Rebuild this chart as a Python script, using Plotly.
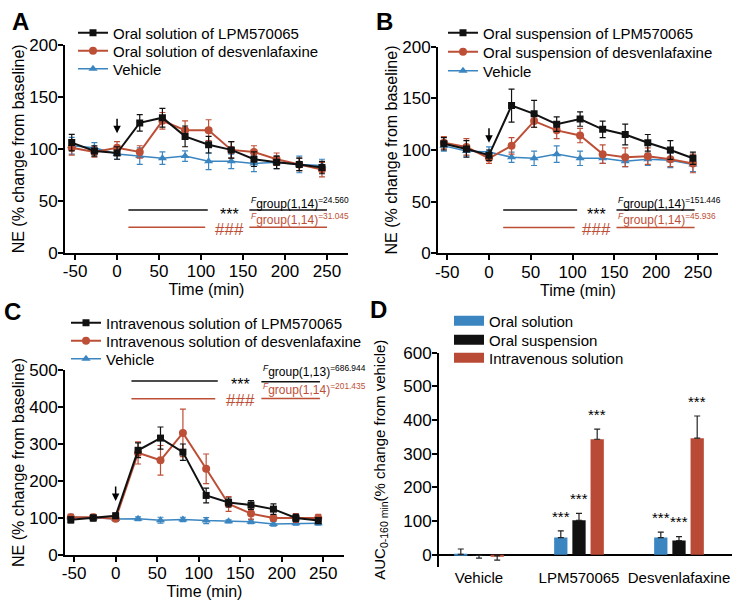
import plotly.graph_objects as go

W, H = 738, 611

BLACK = "#111111"
RED = "#bd4f37"
BLUE = "#3b86c1"
FONT = "Arial, Liberation Sans, sans-serif"

# time points (min) shared by panels A-C
time_min = [-54, -27, 0, 27, 54, 81, 109, 136, 163, 190, 217, 244]

# A: oral solution
a_lpm = [106, 98, 96, 125, 130, 112, 104, 99, 90, 87, 85, 82]
a_lpm_err = [8, 5, 6, 8, 9, 10, 8, 8, 7, 6, 6, 6]
a_des = [101, 97, 101, 97, 127, 118, 118, 99, 97, 90, 85, 80]
a_des_err = [7, 5, 6, 6, 8, 9, 10, 8, 6, 6, 6, 7]
a_veh = [103, 101, 95, 93, 91, 93, 88, 88, 86, 87, 85, 84]
a_veh_err = [8, 5, 5, 8, 6, 5, 8, 7, 8, 6, 8, 6]

# B: oral suspension
b_lpm = [106, 101, 95, 143, 135, 125, 130, 120, 115, 107, 100, 92]
b_lpm_err = [6, 8, 5, 16, 13, 7, 7, 8, 10, 8, 9, 6]
b_des = [107, 103, 92, 104, 128, 119, 114, 96, 93, 94, 91, 87]
b_des_err = [6, 8, 5, 8, 6, 8, 7, 9, 9, 8, 7, 9]
b_veh = [104, 99, 98, 93, 92, 96, 92, 92, 89, 91, 90, 86]
b_veh_err = [5, 5, 5, 5, 7, 8, 7, 5, 5, 6, 7, 7]

# C: intravenous solution
c_lpm = [95, 100, 106, 283, 316, 278, 161, 142, 135, 124, 100, 93]
c_lpm_err = [8, 8, 7, 20, 30, 22, 20, 12, 12, 14, 10, 8]
c_des = [102, 102, 98, 276, 256, 330, 233, 138, 112, 100, 100, 100]
c_des_err = [8, 8, 6, 30, 40, 64, 40, 20, 15, 8, 12, 10]
c_veh = [102, 101, 97, 98, 94, 96, 93, 91, 90, 84, 86, 86]
c_veh_err = [8, 8, 6, 5, 8, 6, 8, 4, 5, 6, 5, 5]

# D: AUC 0-160 min
groups = ["Vehicle", "LPM570065", "Desvenlafaxine"]
auc_solution = [1, 51, 51]
auc_solution_err = [16, 20, 16]
auc_suspension = [-2, 102, 42]
auc_suspension_err = [8, 21, 12]
auc_iv = [-3, 343, 346]
auc_iv_err = [13, 30, 66]
sig_solution = ["", "***", "***"]
sig_suspension = ["", "***", "***"]
sig_iv = ["", "***", "***"]

# F statistics text
f_stats = {
    "A": ("(1,14)", "24.560", "(1,14)", "31.045"),
    "B": ("(1,14)", "151.446", "(1,14)", "45.936"),
    "C": ("(1,13)", "686.944", "(1,14)", "201.435"),
}

time_ticks = [-50, 0, 50, 100, 150, 200, 250]
time_ticktext = ["-50", "0", "50", "100", "150", "200", "250"]


def xd(a, b):
    return [a / W, b / W]


def yd(top, bottom):
    return [1 - bottom / H, 1 - top / H]


fig = go.Figure()

panels = [
    # key, axis suffix, data, legend names, legend pos (px), legend row gap
    ("A", "", (a_lpm, a_lpm_err, a_des, a_des_err, a_veh, a_veh_err),
     ["Oral solution of LPM570065", "Oral solution of desvenlafaxine", "Vehicle"],
     (73, 33), 18),
    ("B", "2", (b_lpm, b_lpm_err, b_des, b_des_err, b_veh, b_veh_err),
     ["Oral suspension of LPM570065", "Oral suspension of desvenlafaxine", "Vehicle"],
     (443, 33), 19),
    ("C", "3", (c_lpm, c_lpm_err, c_des, c_des_err, c_veh, c_veh_err),
     ["Intravenous solution of LPM570065", "Intravenous solution of desvenlafaxine", "Vehicle"],
     (66, 323), 18),
]

legends = {}
leg_i = 0


def new_legend(x_px, y_px):
    global leg_i
    leg_i += 1
    name = "legend" if leg_i == 1 else f"legend{leg_i}"
    legends[name] = dict(
        x=x_px / W, y=1 - y_px / H, xanchor="left", yanchor="middle",
        bgcolor="rgba(0,0,0,0)", font=dict(size=15, color="black"),
        itemwidth=30, borderwidth=0,
    )
    return name


for key, sfx, data, names, (lx, ly), gap in panels:
    lpm, lpm_err, des, des_err, veh, veh_err = data
    styles = [
        (veh, veh_err, BLUE, "triangle-up", 8, 1.5, names[2], 2),
        (des, des_err, RED, "circle", 8, 2, names[1], 1),
        (lpm, lpm_err, BLACK, "square", 7, 2, names[0], 0),
    ]
    for y, err, color, sym, size, lw, name, row in styles:
        fig.add_trace(go.Scatter(
            x=time_min, y=y, name=name, mode="lines+markers",
            line=dict(color=color, width=lw),
            marker=dict(color=color, symbol=sym, size=size),
            error_y=dict(type="data", array=err, color=color, thickness=1.2, width=3),
            xaxis="x" + sfx, yaxis="y" + sfx,
            legend=new_legend(lx, ly + row * gap),
        ))

# D legend entries (wide swatches) and bars
d_series = [
    ("Oral solution", auc_solution, auc_solution_err, sig_solution, BLUE, -0.182),
    ("Oral suspension", auc_suspension, auc_suspension_err, sig_suspension, BLACK, 0.0),
    ("Intravenous solution", auc_iv, auc_iv_err, sig_iv, "#b94a35", 0.182),
]
d_rows = [321, 340, 358]
annotations = []
for (name, vals, errs, sig, color, off), ry in zip(d_series, d_rows):
    up = [e if v >= 0 else 0 for v, e in zip(vals, errs)]
    down = [0 if v >= 0 else e for v, e in zip(vals, errs)]
    fig.add_trace(go.Bar(
        x=groups, y=vals, name=name, marker=dict(color=color, line=dict(width=0)),
        error_y=dict(type="data", symmetric=False, array=up, arrayminus=down,
                     color="#222222", thickness=1.2, width=3),
        xaxis="x4", yaxis="y4", showlegend=False,
    ))
    fig.add_trace(go.Scatter(
        x=[None], y=[None], name=name, mode="lines",
        line=dict(color=color, width=10),
        xaxis="x4", yaxis="y4", legend=new_legend(449, ry),
    ))
    for i, (v, e, s) in enumerate(zip(vals, errs, sig)):
        if s:
            annotations.append(dict(
                x=i + off, y=max(v, 0) + e + 12, xref="x4", yref="y4", text=s,
                showarrow=False, yanchor="bottom", font=dict(size=15, color="black"),
            ))

# significance bars, stars and F statistics for A-C
sig_marks = {
    # axis sfx, seg start, seg end, black y, red y, star x, F line start, F line end,
    # F black line y, F red line y, F black text y, F red text y
    "A": ("", 13.5, 108, 41, 24.5, 134, 157.5, 250, 41, 24.5, 48, 32),
    "B": ("2", 17, 105.5, 42, 25, 129, 152.5, 246, 42, 25, 49, 33),
    "C": ("3", 19, 123, 470, 422, 150, 175.5, 246, 468, 423, 497, 450),
}
shapes = []
for key, (sfx, s0, s1, yb, yr, sx, f0, f1, fyb, fyr, tyb, tyr) in sig_marks.items():
    xr, yrf = "x" + sfx, "y" + sfx
    shapes.append(dict(type="line", xref=xr, yref=yrf, x0=s0, x1=s1, y0=yb, y1=yb,
                       line=dict(color=BLACK, width=1.5)))
    shapes.append(dict(type="line", xref=xr, yref=yrf, x0=s0, x1=s1 - 3, y0=yr, y1=yr,
                       line=dict(color=RED, width=1.5)))
    shapes.append(dict(type="line", xref=xr, yref=yrf, x0=f0, x1=f1, y0=fyb, y1=fyb,
                       line=dict(color=BLACK, width=1.5)))
    shapes.append(dict(type="line", xref=xr, yref=yrf, x0=f0, x1=f1, y0=fyr, y1=fyr,
                       line=dict(color=RED, width=1.5)))
    gb, vb, gr, vr = f_stats[key]
    span = 200 if key != "C" else 500
    annotations += [
        dict(x=sx, y=yb - span * 0.02, xref=xr, yref=yrf, text="***", showarrow=False,
             font=dict(size=16, color="black")),
        dict(x=sx, y=yr - span * 0.01, xref=xr, yref=yrf, text="###", showarrow=False,
             font=dict(size=17, color=RED)),
        dict(x=f0, y=tyb, xref=xr, yref=yrf, xanchor="left", yanchor="middle",
             showarrow=False, text=f"<i><sup>F</sup></i>group{gb}<sup>={vb}</sup>",
             font=dict(size=12, color="black")),
        dict(x=f0, y=tyr, xref=xr, yref=yrf, xanchor="left", yanchor="middle",
             showarrow=False, text=f"<i><sup>F</sup></i>group{gr}<sup>={vr}</sup>",
             font=dict(size=12, color=RED)),
    ]

# dosing arrows at t = 0
for sfx, tip in [("", 115), ("2", 107), ("3", 146)]:
    annotations.append(dict(x=0, y=tip, xref="x" + sfx, yref="y" + sfx, ax=0, ay=-16,
                            showarrow=True, arrowhead=2, arrowsize=1, arrowwidth=1.5,
                            arrowcolor="black", text=""))

# panel letters
for letter, px, py in [("A", 20, 21), ("B", 384, 21), ("C", 12, 311), ("D", 378, 309)]:
    annotations.append(dict(x=px / W, y=1 - py / H, xref="paper", yref="paper",
                            xanchor="center", yanchor="middle",
                            text=f"<b>{letter}</b>", showarrow=False,
                            font=dict(size=24, color="black")))

axis_base = dict(showline=True, linecolor="black", linewidth=2, ticks="outside",
                 ticklen=5, tickwidth=1.5, tickcolor="black", showgrid=False,
                 zeroline=False, tickfont=dict(size=17, color="black"),
                 ticklabelstandoff=-3)
time_axis = dict(axis_base, tickmode="array", tickvals=time_ticks, ticktext=time_ticktext,
                 title=dict(text="Time (min)", font=dict(size=16, color="black"), standoff=2))
ne_title = dict(text="NE (% change from baseline)", font=dict(size=16, color="black"),
                standoff=1)

fig.update_layout(
    width=W, height=H, margin=dict(l=0, r=0, t=0, b=0, autoexpand=False),
    paper_bgcolor="white", plot_bgcolor="white",
    font=dict(family=FONT, color="black"),
    barmode="group", bargap=0.454, bargroupgap=0.27,
    xaxis=dict(time_axis, domain=xd(65, 348), range=[-62, 275], anchor="y"),
    yaxis=dict(axis_base, domain=yd(45, 252.7), range=[0, 200], dtick=50,
               anchor="x", title=ne_title),
    xaxis2=dict(time_axis, domain=xd(438, 718), range=[-61, 274], anchor="y2"),
    yaxis2=dict(axis_base, domain=yd(46.7, 253.3), range=[0, 200], dtick=50,
                anchor="x2", title=ne_title),
    xaxis3=dict(time_axis, domain=xd(65, 344), range=[-61, 275], anchor="y3"),
    yaxis3=dict(axis_base, domain=yd(370, 555), range=[0, 500], dtick=100,
                anchor="x3", title=ne_title),
    xaxis4=dict(domain=xd(439, 732), range=[-0.4, 2.53], showline=False, ticks="",
                showgrid=False, zeroline=False, tickfont=dict(size=15, color="black"),
                anchor="y4", type="category"),
    yaxis4=dict(axis_base, domain=yd(352.7, 566.7), range=[-35.6, 600],
                tickvals=[0, 100, 200, 300, 400, 500, 600], anchor="x4",
                zeroline=True, zerolinecolor="black", zerolinewidth=2,
                title=dict(text="AUC<sub>0-160 min</sub>(% change from vehicle)",
                           font=dict(size=15, color="black"), standoff=14)),
    shapes=shapes, annotations=annotations,
    **legends,
)

fig.write_html("out.html", config={"displayModeBar": False},
               post_script="document.body.style.margin='0px';")
